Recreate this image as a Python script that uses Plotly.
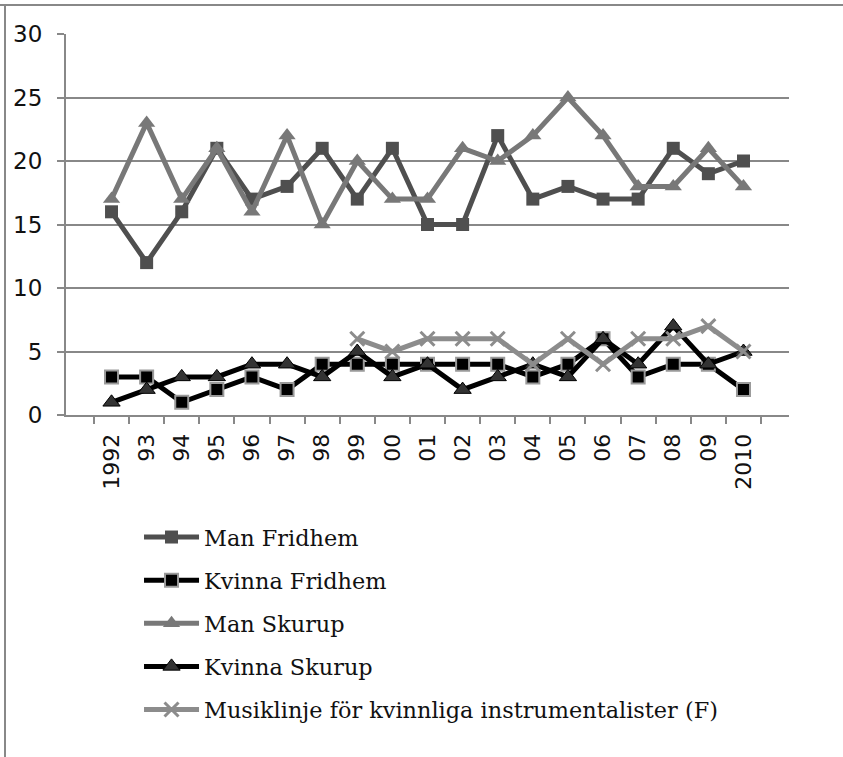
import plotly.graph_objects as go

years = ["1992", "93", "94", "95", "96", "97", "98", "99", "00", "01",
         "02", "03", "04", "05", "06", "07", "08", "09", "2010"]

man_fridhem = [16, 12, 16, 21, 17, 18, 21, 17, 21, 15, 15, 22, 17, 18, 17, 17, 21, 19, 20]
kvinna_fridhem = [3, 3, 1, 2, 3, 2, 4, 4, 4, 4, 4, 4, 3, 4, 6, 3, 4, 4, 2]
man_skurup = [17, 23, 17, 21, 16, 22, 15, 20, 17, 17, 21, 20, 22, 25, 22, 18, 18, 21, 18]
kvinna_skurup = [1, 2, 3, 3, 4, 4, 3, 5, 3, 4, 2, 3, 4, 3, 6, 4, 7, 4, 5]
musiklinje = [None, None, None, None, None, None, None, 6, 5, 6, 6, 6, 4, 6, 4, 6, 6, 7, 5]

names = ["Man Fridhem", "Kvinna Fridhem", "Man Skurup", "Kvinna Skurup",
         "Musiklinje för kvinnliga instrumentalister (F)"]

fig = go.Figure()

fig.add_trace(go.Scatter(
    x=years, y=man_fridhem, name=names[0], mode="lines+markers", legendgroup="a",
    line=dict(color="#4f4f4f", width=5),
    marker=dict(symbol="square", size=13, color="#4f4f4f", line=dict(width=0))))
fig.add_trace(go.Scatter(
    x=years, y=kvinna_fridhem, name=names[1], mode="lines+markers", legendgroup="b",
    line=dict(color="#000000", width=5),
    marker=dict(symbol="square", size=13, color="#000000", line=dict(color="#9a9a9a", width=2))))
fig.add_trace(go.Scatter(
    x=years, y=man_skurup, name=names[2], mode="lines+markers", legendgroup="c",
    line=dict(color="#787878", width=5),
    marker=dict(symbol="triangle-up", size=15, color="#787878", line=dict(width=0))))
fig.add_trace(go.Scatter(
    x=years, y=kvinna_skurup, name=names[3], mode="lines+markers", legendgroup="d",
    line=dict(color="#000000", width=5),
    marker=dict(symbol="triangle-up", size=15, color="#333333", line=dict(color="#000000", width=1))))
fig.add_trace(go.Scatter(
    x=years, y=musiklinje, name=names[4], mode="lines+markers", legendgroup="e",
    line=dict(color="#8c8c8c", width=5),
    marker=dict(symbol="x-thin-open", size=14, color="#8c8c8c", line=dict(color="#8c8c8c", width=3))))

fig.update_layout(
    width=843, height=757,
    margin=dict(l=66, r=54, t=34, b=342),
    paper_bgcolor="white", plot_bgcolor="white",
    showlegend=True,
    legend=dict(
        x=0.101, y=-0.265, xanchor="left", yanchor="top",
        font=dict(family="DejaVu Serif", size=22.4, color="#111111"),
        traceorder="grouped", tracegroupgap=11, itemwidth=55,
        bgcolor="rgba(0,0,0,0)"),
    xaxis=dict(
        type="category", showgrid=False, showline=True, linecolor="#888888", linewidth=2,
        ticks="outside", tickson="boundaries", ticklen=7, tickcolor="#888888", tickwidth=2,
        ticklabelstandoff=8,
        tickangle=-90, tickfont=dict(family="DejaVu Sans", size=22, color="#111111")),
    yaxis=dict(
        range=[0, 30], dtick=5, showgrid=True, gridcolor="#888888", gridwidth=2,
        showline=True, linecolor="#888888", linewidth=2, zeroline=False,
        ticks="outside", ticklen=7, tickcolor="#888888", tickwidth=2, ticklabelstandoff=10,
        tickfont=dict(family="DejaVu Sans", size=23, color="#111111")),
    shapes=[
        dict(type="line", xref="paper", yref="paper", x0=-66/723, x1=1 + 54/723,
             y0=1 + 29/381, y1=1 + 29/381, line=dict(color="#888888", width=2)),
        dict(type="line", xref="paper", yref="paper", x0=-61/723, x1=-61/723,
             y0=1 + 29/381, y1=-342/381, line=dict(color="#888888", width=2)),
    ],
)

fig.write_html("out.html", config={"displayModeBar": False},
               post_script="document.body.style.margin='0';")
